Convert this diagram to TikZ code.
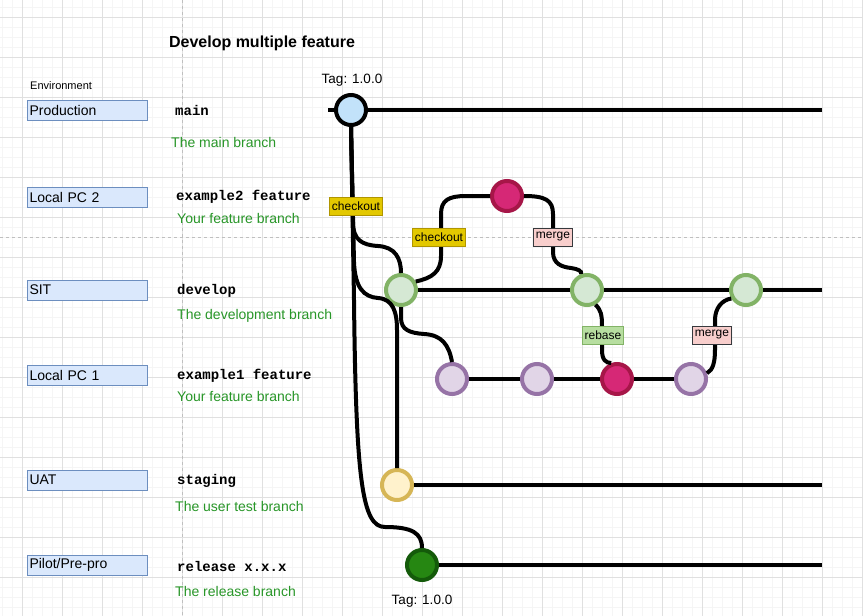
\documentclass[tikz,border=0pt]{standalone}
\usepackage{fontspec}
\setmainfont{Liberation Sans}
\setmonofont{Liberation Mono}

\definecolor{envfill}{HTML}{DAE8FC}
\definecolor{envline}{HTML}{6C8EBF}
\definecolor{desctext}{RGB}{40,150,40}
\definecolor{mainfill}{RGB}{194,226,250}
\definecolor{devfill}{HTML}{D5E8D4}
\definecolor{devline}{HTML}{82B366}
\definecolor{featfill}{HTML}{E1D5E7}
\definecolor{featline}{HTML}{9673A6}
\definecolor{hotfill}{RGB}{214,40,118}
\definecolor{hotline}{RGB}{166,22,72}
\definecolor{stagefill}{HTML}{FFF2CC}
\definecolor{stageline}{HTML}{D6B656}
\definecolor{relfill}{RGB}{38,135,18}
\definecolor{relline}{RGB}{20,90,10}
\definecolor{cofill}{HTML}{E3C800}
\definecolor{coline}{HTML}{B09500}
\definecolor{mgfill}{HTML}{F8CECC}
\definecolor{mgline}{HTML}{36393D}
\definecolor{rbfill}{RGB}{183,222,160}

\begin{document}
\begin{tikzpicture}
	[x=1pt, y=-1pt,
	every node/.style={font=\fontsize{14}{16}\selectfont},
	minorgrid/.style={draw=black!4, line width=1pt},
	majorgrid/.style={draw=black!12, line width=1pt},
	guide/.style={draw=black!25, line width=1pt, dash pattern=on 3pt off 3pt},
	env/.style={draw=envline, fill=envfill, line width=1pt, text width=116pt, align=left,
		minimum height=20pt, inner xsep=2pt, inner ysep=0pt, anchor=west},
	branch/.style={font=\fontsize{14}{16}\selectfont\ttfamily\bfseries, inner sep=0pt, anchor=west},
	desc/.style={text=desctext, inner sep=0pt, anchor=west},
	tag/.style={inner sep=0pt, font=\fontsize{13.5}{16}\selectfont},
	commit/.style={circle, minimum size=30pt, inner sep=0pt, line width=4pt},
	maincommit/.style={commit, draw=black, fill=mainfill},
	devcommit/.style={commit, draw=devline, fill=devfill},
	featcommit/.style={commit, draw=featline, fill=featfill},
	hotcommit/.style={commit, draw=hotline, fill=hotfill},
	stagecommit/.style={commit, draw=stageline, fill=stagefill},
	relcommit/.style={commit, draw=relline, fill=relfill},
	link/.style={draw=black, line width=4pt},
	lane/.style={draw=black, line width=4pt},
	action/.style={font=\fontsize{12}{14}\selectfont, line width=1pt, inner xsep=2.5pt,
		inner ysep=0pt, minimum height=18pt},
	checkout/.style={action, draw=coline, fill=cofill},
	mergebox/.style={action, draw=mgline, fill=mgfill},
	rebasebox/.style={action, draw=devline, fill=rbfill},
	]

	\fill[white] (0,0) rectangle (863,616);
	\useasboundingbox (0,0) rectangle (863,616);
	% grid
	\foreach \x in {2,12,...,862} \draw[minorgrid] (\x,0) -- (\x,616);
	\foreach \y in {7,17,...,607} \draw[minorgrid] (0,\y) -- (863,\y);
	\foreach \x in {22,62,...,862} \draw[majorgrid] (\x,0) -- (\x,616);
	\foreach \y in {17,57,...,577} \draw[majorgrid] (0,\y) -- (863,\y);
	\draw[guide] (182,0) -- (182,616);
	\draw[guide] (0,237) -- (863,237);

	\node[font=\fontsize{16}{18}\selectfont\bfseries] (title) at (262,43) {Develop multiple feature};
	\node[font=\fontsize{11}{13}\selectfont, inner sep=0pt, anchor=west] (envhead) at (30,86) {Environment};

	% environments
	\node[env] (prod) at (27,110.5) {Production};
	\node[env] (pc2) at (27,197) {Local PC 2};
	\node[env] (sit) at (27,290) {SIT};
	\node[env] (pc1) at (27,375.5) {Local PC 1};
	\node[env] (uat) at (27,480) {UAT};
	\node[env] (pilot) at (27,565) {Pilot/Pre-pro};

	% branches
	\node[branch] (mainname) at (175,110) {main};
	\node[desc] (maindesc) at (171,142) {The main branch};
	\node[branch] (ex2name) at (176,197) {example2 feature};
	\node[desc] (ex2desc) at (177,218) {Your feature branch};
	\node[branch] (devname) at (177,291) {develop};
	\node[desc] (devdesc) at (177,316) {The development branch};
	\node[branch] (ex1name) at (177,376) {example1 feature};
	\node[desc] (ex1desc) at (177,396) {Your feature branch};
	\node[branch] (stagename) at (177,481) {staging};
	\node[desc] (stagedesc) at (175,506) {The user test branch};
	\node[branch] (relname) at (177,566) {release x.x.x};
	\node[desc] (reldesc) at (175,591) {The release branch};

	% commits
	\node[maincommit] (main) at (351,110) {};
	\node[hotcommit] (hot1) at (507,196) {};
	\node[devcommit] (dev1) at (401,290) {};
	\node[devcommit] (dev2) at (587,290) {};
	\node[devcommit] (dev3) at (746,290) {};
	\node[featcommit] (feat1) at (452,379) {};
	\node[featcommit] (feat2) at (537,379) {};
	\node[hotcommit] (hot2) at (617,379) {};
	\node[featcommit] (feat4) at (691,379) {};
	\node[stagecommit] (stage) at (397,485) {};
	\node[relcommit] (rel) at (422,565) {};

	\coordinate (mainstart) at (328,110);
	\coordinate (mainend) at (822,110);
	\coordinate (devend) at (822,290);
	\coordinate (stageend) at (822,485);
	\coordinate (relend) at (822,565);

	\node[tag] (tagmain) at (352,80) {Tag: 1.0.0};
	\node[tag] (tagrel) at (422,601) {Tag: 1.0.0};

	% links from main
	\draw[link] (main.south) -- (353,222) .. controls (353,240) and (362,245) .. (378,246)
		.. controls (395,247) and (401,258) .. (dev1.north);
	\draw[link] (main.south) -- (354,262) .. controls (355,288) and (364,297) .. (378,298)
		.. controls (393,299) and (397,312) .. (397,330) -- (stage.north);
	\draw[link] (main.south) -- (354,300) .. controls (356,480) and (362,527) .. (385,527)
		.. controls (412,527) and (422,533) .. (rel.north);

	% develop and features
	\draw[link] (dev1.30) .. controls (432,278) and (441,272) .. (441,256) -- (441,214)
		.. controls (441,200) and (449,196) .. (466,196) -- (hot1.west);
	\draw[link] (hot1.east) .. controls (545,196) and (553,200) .. (553,214) -- (553,252)
		.. controls (553,264) and (562,267) .. (571,268) .. controls (578,269) and (582,271) .. (dev2.110);
	\draw[link] (dev1.south) -- (401,318) .. controls (401,330) and (410,333) .. (424,334)
		.. controls (442,335) and (449,345) .. (feat1.north);
	\draw[link] (dev2.-60) .. controls (601,310) and (602,315) .. (602,326) -- (602,350)
		.. controls (602,360) and (606,363) .. (hot2.110);
	\draw[link] (feat4.20) .. controls (713,370) and (715,362) .. (715,350) -- (715,320)
		.. controls (715,308) and (722,300) .. (dev3.210);

	% lanes
	\draw[lane] (mainstart) -- (main) -- (mainend);
	\draw[lane] (dev1) -- (dev2) -- (dev3) -- (devend);
	\draw[lane] (feat1) -- (feat2) -- (hot2) -- (feat4);
	\draw[lane] (stage) -- (stageend);
	\draw[lane] (rel) -- (relend);

	% actions
	\node[checkout] (co1) at (356,206) {checkout};
	\node[checkout] (co2) at (439,237) {checkout};
	\node[mergebox] (mg1) at (553,237) {merge};
	\node[rebasebox] (rb) at (603,335) {rebase};
	\node[mergebox] (mg2) at (712,335) {merge};
\end{tikzpicture}
\end{document}
